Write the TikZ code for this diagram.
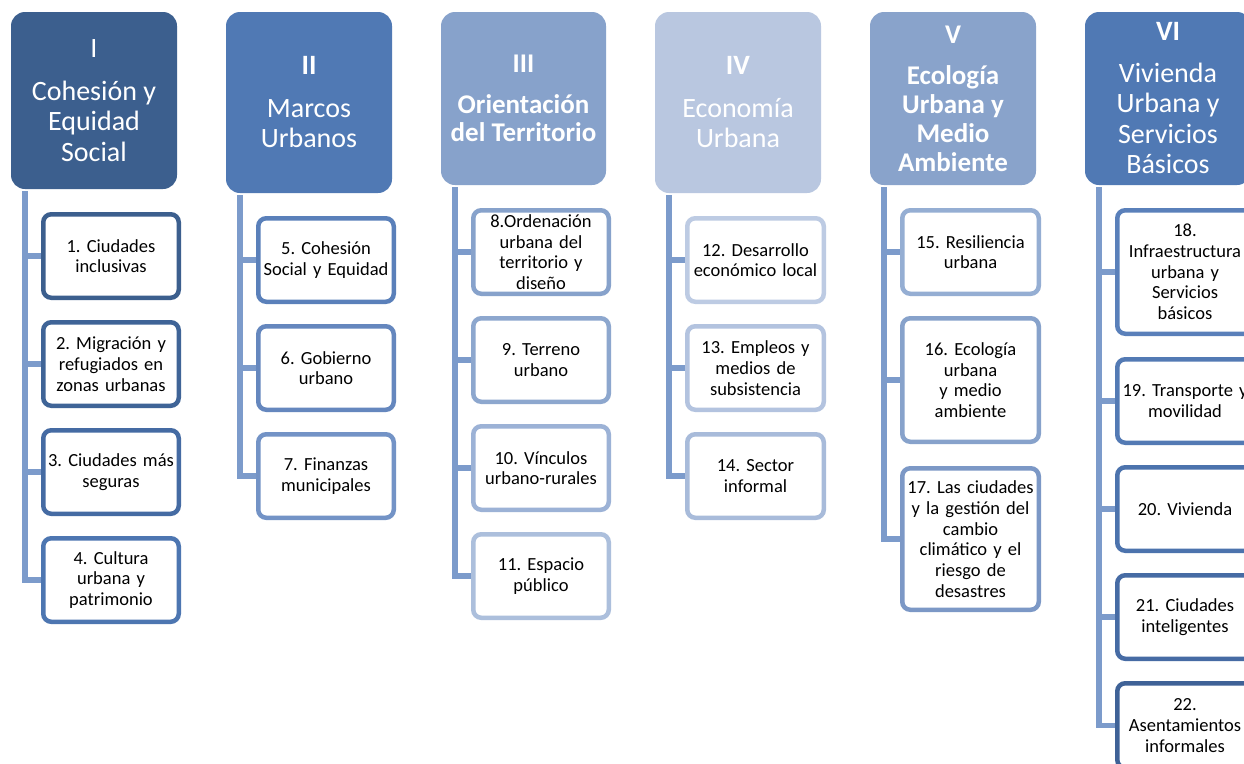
\documentclass[tikz,border=0pt]{standalone}
\usepackage{fontspec}
\setmainfont{Carlito}
\frenchspacing
\usetikzlibrary{backgrounds}
\definecolor{hI}{HTML}{3C5F8E}
\definecolor{hII}{HTML}{5079B4}
\definecolor{hIII}{HTML}{87A2CB}
\definecolor{hIV}{HTML}{B9C7E0}
\definecolor{hV}{HTML}{89A3CB}
\definecolor{hVI}{HTML}{5079B4}
\definecolor{k1}{HTML}{3C5F8E}
\definecolor{k2}{HTML}{3F6497}
\definecolor{k3}{HTML}{456BA3}
\definecolor{k4}{HTML}{4D76B1}
\definecolor{k5}{HTML}{5A80BA}
\definecolor{k6}{HTML}{6587BE}
\definecolor{k7}{HTML}{7393C6}
\definecolor{k8}{HTML}{87A2CB}
\definecolor{k9}{HTML}{8DA7CE}
\definecolor{k10}{HTML}{9CB2D6}
\definecolor{k11}{HTML}{ACBFDC}
\definecolor{k12}{HTML}{BDCBE3}
\definecolor{k13}{HTML}{B3C3DF}
\definecolor{k14}{HTML}{A8BBDA}
\definecolor{k15}{HTML}{95AED3}
\definecolor{k16}{HTML}{87A2CB}
\definecolor{k17}{HTML}{7C98C6}
\definecolor{k18}{HTML}{5A80BA}
\definecolor{k19}{HTML}{537AB4}
\definecolor{k20}{HTML}{4C73AD}
\definecolor{k21}{HTML}{466BA4}
\definecolor{k22}{HTML}{3F6297}
\definecolor{connc}{HTML}{7C9BCB}
\newcommand\hreg{\fontsize{28}{30.5}\selectfont\frenchspacing}
\newcommand\hbold{\fontsize{27}{28.8}\selectfont\bfseries\frenchspacing}
\newcommand\kidf{\fontsize{18.5}{20.7}\selectfont\frenchspacing}
\begin{document}
\begin{tikzpicture}[x=1pt,y=-1pt,
  head/.style={rounded corners=14pt, align=center, text=white, inner sep=0pt, minimum width=166pt},
  kid/.style={draw, fill=white, line width=4.5pt, rounded corners=8pt, align=center,
    font=\kidf, inner sep=0pt, text width=134pt, minimum width=135.5pt, text=black},
  conn/.style={draw=connc, line width=5.5pt}]
\useasboundingbox (0,0) rectangle (1244,763);
\clip (0,0) rectangle (1244,763);
% headers
\node[head, fill=hI, minimum height=177pt, font=\hreg] (hI) at (94,100.5)
  {I\\[12pt]Cohesión y\\Equidad\\Social};
\node[head, fill=hII, minimum height=181pt, font=\hreg] (hII) at (309,102.5)
  {\textbf{II}\\[12pt]Marcos\\Urbanos};
\node[head, fill=hIII, minimum height=173pt, minimum width=165pt, font=\hbold] (hIII) at (523.5,98.5)
  {III\\[12pt]Orientación\\del Territorio};
\node[head, fill=hIV, minimum height=181pt, font=\hreg] (hIV) at (738,102.5)
  {\textbf{IV}\\[12pt]Economía\\Urbana};
\node[head, fill=hV, minimum height=173pt, font=\hbold] (hV) at (953,98.5)
  {V\\[13pt]Ecología\\Urbana y\\Medio\\Ambiente};
\node[head, fill=hVI, minimum height=173pt, font=\hreg] (hVI) at (1168,98.5)
  {\textbf{VI}\\[11pt]Vivienda\\Urbana y\\Servicios\\Básicos};
% column I
\node[kid, draw=k1, minimum height=83.5pt] (c1) at (111,256) {1. Ciudades\\inclusivas};
\node[kid, draw=k2, minimum height=83.5pt] (c2) at (111,364) {2. Migración y\\refugiados en\\zonas urbanas};
\node[kid, draw=k3, minimum height=83.5pt] (c3) at (111,472) {3. Ciudades más\\seguras};
\node[kid, draw=k4, minimum height=83.5pt] (c4) at (111,580) {4. Cultura\\urbana y\\patrimonio};
% column II
\node[kid, draw=k5, minimum height=83.5pt] (c5) at (326,260) {5. Cohesión\\Social y Equidad};
\node[kid, draw=k6, minimum height=83.5pt] (c6) at (326,368) {6. Gobierno\\urbano};
\node[kid, draw=k7, minimum height=83.5pt] (c7) at (326,476) {7. Finanzas\\municipales};
% column III
\node[kid, draw=k8, minimum height=83.5pt] (c8) at (541,252) {8.Ordenación\\urbana del\\territorio y\\diseño};
\node[kid, draw=k9, minimum height=83.5pt] (c9) at (541,360) {9. Terreno\\urbano};
\node[kid, draw=k10, minimum height=83.5pt] (c10) at (541,468) {10. Vínculos\\urbano-rurales};
\node[kid, draw=k11, minimum height=83.5pt] (c11) at (541,576) {11. Espacio\\público};
% column IV
\node[kid, draw=k12, minimum height=83.5pt, minimum width=136.5pt] (c12) at (755.5,260) {12. Desarrollo\\económico local};
\node[kid, draw=k13, minimum height=83.5pt, minimum width=136.5pt] (c13) at (755.5,368) {13. Empleos y\\medios de\\subsistencia};
\node[kid, draw=k14, minimum height=83.5pt, minimum width=136.5pt] (c14) at (755.5,476) {14. Sector\\informal};
% column V
\node[kid, draw=k15, minimum height=83.5pt, minimum width=136.5pt] (c15) at (970.5,252) {15. Resiliencia\\urbana};
\node[kid, draw=k16, minimum height=123.5pt, minimum width=136.5pt] (c16) at (970.5,380) {16. Ecología\\urbana\\y medio\\ambiente};
\node[kid, draw=k17, minimum height=141.5pt, minimum width=136.5pt] (c17) at (970.5,539) {17. Las ciudades\\y la gestión del\\cambio\\climático y el\\riesgo de\\desastres};
% column VI
\node[kid, draw=k18, minimum height=123.5pt] (c18) at (1185,272) {18.\\Infraestructura\\urbana y\\Servicios\\básicos};
\node[kid, draw=k19, minimum height=83.5pt] (c19) at (1185,401) {19. Transporte y\\movilidad};
\node[kid, draw=k20, minimum height=83.5pt] (c20) at (1185,509) {20. Vivienda};
\node[kid, draw=k21, minimum height=83.5pt] (c21) at (1185,617) {21. Ciudades\\inteligentes};
\node[kid, draw=k22, minimum height=84.5pt] (c22) at (1185,725.5) {22.\\Asentamientos\\informales};
% connector tops
\coordinate (tI) at ([xshift=14pt,yshift=-2pt]hI.south west);
\coordinate (tII) at ([xshift=14pt,yshift=-2pt]hII.south west);
\coordinate (tIII) at ([xshift=14pt,yshift=-2pt]hIII.south west);
\coordinate (tIV) at ([xshift=14pt,yshift=-2pt]hIV.south west);
\coordinate (tV) at ([xshift=14pt,yshift=-2pt]hV.south west);
\coordinate (tVI) at ([xshift=14pt,yshift=-2pt]hVI.south west);
\begin{scope}[on background layer]
\fill[white] (0,0) rectangle (1244,763);
\foreach \c in {c1,c2,c3,c4} \draw[conn] (tI) |- (\c.west);
\foreach \c in {c5,c6,c7} \draw[conn] (tII) |- (\c.west);
\foreach \c in {c8,c9,c10,c11} \draw[conn] (tIII) |- (\c.west);
\foreach \c in {c12,c13,c14} \draw[conn] (tIV) |- (\c.west);
\foreach \c in {c15,c16,c17} \draw[conn] (tV) |- (\c.west);
\foreach \c in {c18,c19,c20,c21,c22} \draw[conn] (tVI) |- (\c.west);
\end{scope}
\end{tikzpicture}
\end{document}
